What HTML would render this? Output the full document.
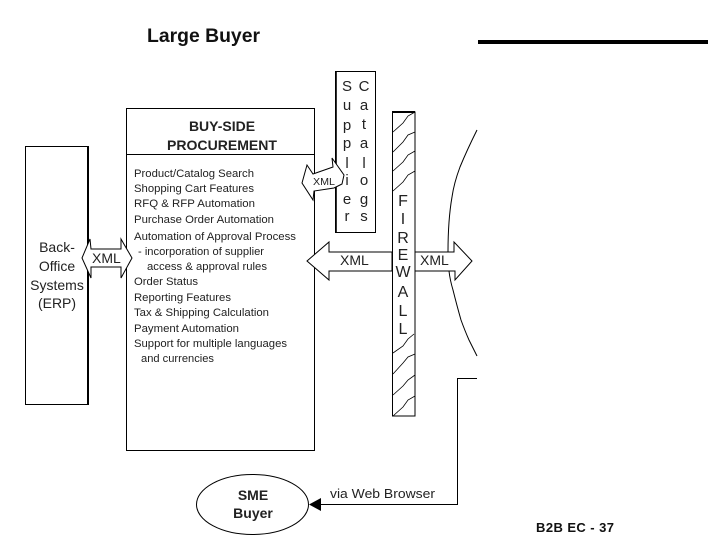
<!DOCTYPE html>
<html><head><meta charset="utf-8"><style>
html,body{margin:0;padding:0;background:#fff}
svg{display:block}
text{font-family:"Liberation Sans",Arial,sans-serif;fill:#111;filter:blur(.25px)}
.l{font-size:11px;fill:#222}
.f{font-size:16px;text-anchor:middle;fill:#222}
.s{font-size:15px;text-anchor:middle;fill:#222}
</style></head><body>
<svg width="720" height="540" viewBox="0 0 720 540" xmlns="http://www.w3.org/2000/svg">
<rect width="720" height="540" fill="#fff"/>
<text x="147" y="42" font-size="19" font-weight="bold" textLength="113" lengthAdjust="spacingAndGlyphs">Large Buyer</text>
<rect x="478" y="40" width="230" height="4" fill="#000"/>

<!-- Back office -->
<rect x="25.5" y="146.5" width="62" height="258" fill="#fff" stroke="#000" stroke-width="1"/>
<path d="M88 146V405" stroke="#000" stroke-width="2"/>
<g font-size="14" text-anchor="middle" fill="#222">
<text x="57" y="252" style="fill:#222">Back-</text>
<text x="57" y="271" style="fill:#222">Office</text>
<text x="57" y="290" style="fill:#222">Systems</text>
<text x="57" y="308" style="fill:#222">(ERP)</text>
</g>

<!-- Buy side box -->
<rect x="126.5" y="108.5" width="188" height="342" fill="#fff" stroke="#000" stroke-width="1"/>
<path d="M126 154.5H315" stroke="#000" stroke-width="1"/>
<g font-size="14" font-weight="bold" text-anchor="middle">
<text x="222" y="131" style="fill:#222">BUY-SIDE</text>
<text x="222" y="150" style="fill:#222" textLength="110" lengthAdjust="spacingAndGlyphs">PROCUREMENT</text>
</g>
<text class="l" x="134" y="177" textLength="120" lengthAdjust="spacingAndGlyphs">Product/Catalog Search</text>
<text class="l" x="134" y="192" textLength="120" lengthAdjust="spacingAndGlyphs">Shopping Cart Features</text>
<text class="l" x="134" y="207" textLength="121" lengthAdjust="spacingAndGlyphs">RFQ &amp; RFP Automation</text>
<text class="l" x="134" y="223" textLength="140" lengthAdjust="spacingAndGlyphs">Purchase Order Automation</text>
<text class="l" x="134" y="240" textLength="162" lengthAdjust="spacingAndGlyphs">Automation of Approval Process</text>
<text class="l" x="138" y="255" textLength="126" lengthAdjust="spacingAndGlyphs">- incorporation of supplier</text>
<text class="l" x="147" y="270" textLength="120" lengthAdjust="spacingAndGlyphs">access &amp; approval rules</text>
<text class="l" x="134" y="285" textLength="64" lengthAdjust="spacingAndGlyphs">Order Status</text>
<text class="l" x="134" y="301" textLength="97" lengthAdjust="spacingAndGlyphs">Reporting Features</text>
<text class="l" x="134" y="316" textLength="135" lengthAdjust="spacingAndGlyphs">Tax &amp; Shipping Calculation</text>
<text class="l" x="134" y="332" textLength="105" lengthAdjust="spacingAndGlyphs">Payment Automation</text>
<text class="l" x="134" y="347" textLength="153" lengthAdjust="spacingAndGlyphs">Support for multiple languages</text>
<text class="l" x="141" y="362" textLength="73" lengthAdjust="spacingAndGlyphs">and currencies</text>

<!-- big arrow -->
<path d="M307 261 L329 242 V252 H392 V271 H329 V280 Z" fill="#fff" stroke="#000" stroke-width="1"/>
<path d="M415 252H454V242L472 261L455 280V271H415" fill="#fff" stroke="#000" stroke-width="1"/>
<text x="340" y="265" font-size="14" style="fill:#222">XML</text>
<text x="420" y="265" font-size="14" style="fill:#222">XML</text>

<!-- Left XML arrow -->
<path d="M82 258 L90 239 L91 249 H121 V239 L132 258 L121 278 V267 H91 V278 Z" fill="#fff" stroke="#000" stroke-width="1"/>
<text x="92" y="263" font-size="14" style="fill:#222">XML</text>

<!-- Supplier catalogs -->
<rect x="335.5" y="71.5" width="40" height="161" fill="#fff" stroke="#000" stroke-width="1"/>
<path d="M336 71V233" stroke="#000" stroke-width="1.6"/>
<text class="s" x="347" y="91">S</text><text class="s" x="347" y="110">u</text><text class="s" x="347" y="130">p</text><text class="s" x="347" y="148">p</text><text class="s" x="347" y="168">l</text><text class="s" x="347" y="185">i</text><text class="s" x="347" y="204">e</text><text class="s" x="347" y="221">r</text>
<text class="s" x="364" y="91">C</text><text class="s" x="364" y="110">a</text><text class="s" x="364" y="129">t</text><text class="s" x="364" y="148">a</text><text class="s" x="364" y="168">l</text><text class="s" x="364" y="185">o</text><text class="s" x="364" y="204">g</text><text class="s" x="364" y="221">s</text>

<!-- Small tilted XML arrow -->
<path d="M302 183 L307 165 L313 174 L333 167 L332 158 L344 175 L342 184 L334 188 L314 191 L313 200 Z" fill="#fff" stroke="#000" stroke-width="1"/>
<text x="313" y="185" font-size="10" textLength="22" lengthAdjust="spacingAndGlyphs" style="fill:#222">XML</text>

<!-- Firewall -->
<rect x="392.5" y="112" width="22.5" height="304" fill="#fff" stroke="#000" stroke-width="1"/>
<path d="M392 112H415" stroke="#000" stroke-width="2"/>
<g fill="none" stroke="#000" stroke-width="0.8">
<path d="M393 132 L403 123 L408 116 L415 112"/>
<path d="M393 152 L403 142 L408 135 L415 132"/>
<path d="M393 171 L403 162 L408 155 L415 151"/>
<path d="M393 191 L403 182 L408 175 L415 171"/>
<path d="M393 353 L403 346 L408 339 L414 334"/>
<path d="M393 374 L403 363 L408 357 L415 354"/>
<path d="M393 395 L403 386 L408 380 L415 375"/>
<path d="M393 416 L403 407 L408 400 L415 396"/>
</g>
<text class="f" x="403" y="206">F</text>
<text class="f" x="403" y="224">I</text>
<text class="f" x="403" y="243">R</text>
<text class="f" x="403" y="260">E</text>
<text class="f" x="403" y="277">W</text>
<text class="f" x="403" y="297">A</text>
<text class="f" x="403" y="316">L</text>
<text class="f" x="403" y="334">L</text>

<!-- Arc -->
<path d="M477 130 Q467 150 460 167 Q454 183 452 197 Q448 220 448 252" fill="none" stroke="#000" stroke-width="1"/>
<path d="M449 271 Q450 280 453 290 Q457 306 461 320 Q465 331 469 340 L477 356" fill="none" stroke="#000" stroke-width="1"/>

<!-- Web browser connector -->
<path d="M477 378.5H457.5V504.5H320" fill="none" stroke="#000" stroke-width="1"/>
<path d="M309 504.5L321 498V511Z" fill="#000"/>
<text x="330" y="498" font-size="13" textLength="105" lengthAdjust="spacingAndGlyphs" style="fill:#222">via Web Browser</text>

<!-- SME -->
<ellipse cx="252.5" cy="504.5" rx="56" ry="30" fill="#fff" stroke="#000" stroke-width="1"/>
<g font-size="14" font-weight="bold" text-anchor="middle">
<text x="253" y="500" style="fill:#222">SME</text>
<text x="253" y="518" style="fill:#222">Buyer</text>
</g>

<text x="536" y="532" font-size="13" font-weight="bold" textLength="78" lengthAdjust="spacing">B2B EC - 37</text>
</svg>
</body></html>
